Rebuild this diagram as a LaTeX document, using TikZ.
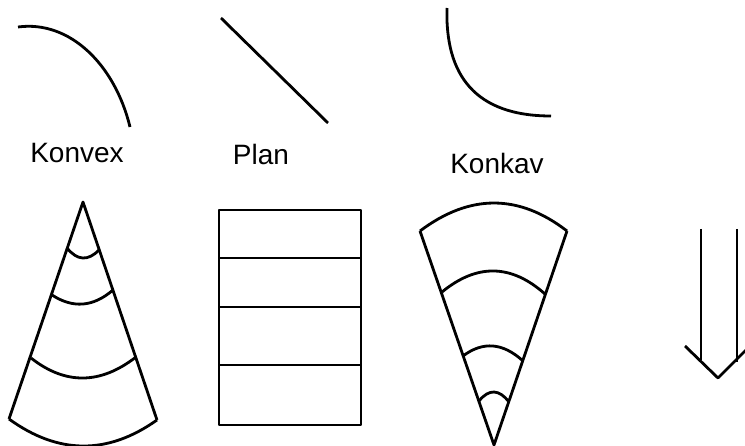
\documentclass[tikz,border=0pt]{standalone}
\usepackage{fontspec}
\setmainfont{Liberation Sans}
\usepackage{tikz}

\begin{document}
\begin{tikzpicture}[x=1pt, y=-1pt,
    stroke/.style={draw=black, line width=2.8pt, line join=round},
    lens label/.style={anchor=base, inner sep=0pt, font=\fontsize{28}{34}\selectfont}]
\useasboundingbox (0,0) rectangle (745,446);
\clip (0,0) rectangle (745,446);
    \begin{scope}
% top row: lens surfaces
\draw[stroke] (18,27) .. controls (70,20) and (115,65) .. (130,127);
\node[lens label] (konvex) at (77,163) {Konvex};
\draw[stroke] (221,18) -- (328,123);
\node[lens label] (plan) at (261,165) {Plan};
\draw[stroke] (447,8) .. controls (445,75) and (475,116) .. (551,116);
\node[lens label] (konkav) at (497,174) {Konkav};
    \end{scope}
    \begin{scope}
% bottom row: wave fronts
\coordinate (cone apex) at (83,202);
\coordinate (cone left) at (9,419);
\coordinate (cone right) at (157,420);
\draw[stroke] (cone left) -- (cone apex) -- (cone right);
\draw[stroke] (67,248) .. controls (77.3,260.7) and (88,261.3) .. (99,250);
\draw[stroke] (52,295) .. controls (73,308.7) and (93.3,307) .. (113,290);
\draw[stroke] (31,358) .. controls (65.3,385) and (100.3,384.7) .. (136,357);
\draw[stroke] (cone left) .. controls (58.3,454.7) and (107.7,455) .. (cone right);
\draw[stroke] (219,210) rectangle (361,425);
\draw[stroke] (219,258) -- (361,258);
\draw[stroke] (219,307) -- (361,307);
\draw[stroke] (219,365) -- (361,365);
\coordinate (fan left) at (420,231);
\coordinate (fan right) at (567,231);
\coordinate (fan apex) at (494,445);
\draw[stroke] (fan left) -- (fan apex) -- (fan right);
\draw[stroke] (fan left) .. controls (469.7,193.7) and (518.7,193.7) .. (fan right);
\draw[stroke] (442,292) .. controls (477,263.3) and (511.3,264) .. (545,294);
\draw[stroke] (463,356) .. controls (483,341) and (503,342.7) .. (523,361);
\draw[stroke] (479,401) .. controls (489,388.7) and (499,389) .. (509,402);
\draw[stroke] (701,229) -- (701,360);
\draw[stroke] (737,229) -- (737,362);
\draw[stroke] (685,346) -- (718,378) -- (750,346);
    \end{scope}
\end{tikzpicture}
\end{document}
